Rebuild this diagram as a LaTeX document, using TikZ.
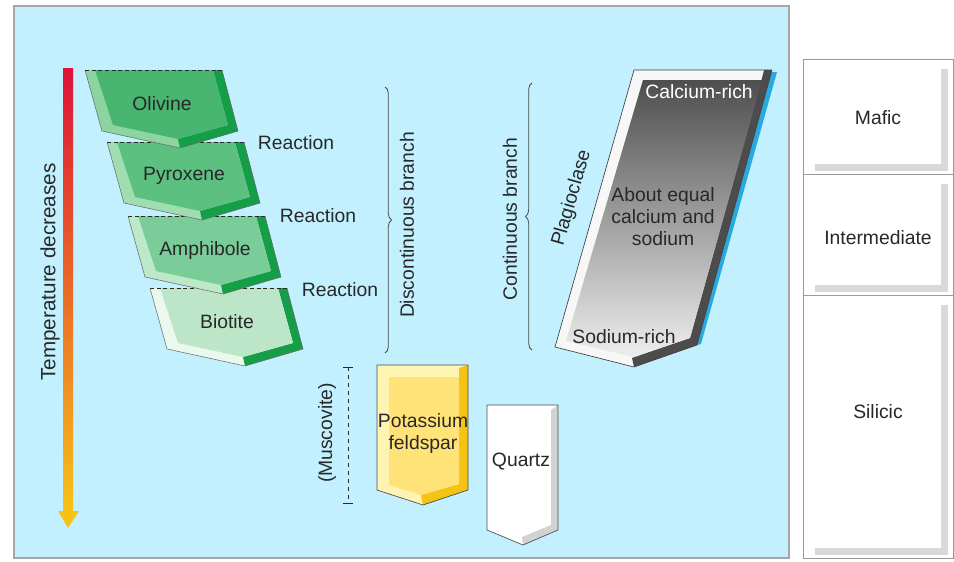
\documentclass[tikz,border=0pt]{standalone}
\usepackage{fontspec}
\setmainfont{Liberation Sans}
\usetikzlibrary{decorations.pathreplacing}
\definecolor{panel}{RGB}{194,240,255}
\definecolor{txt}{RGB}{40,40,40}
\definecolor{grdark}{RGB}{20,158,72}
\definecolor{olvface}{RGB}{72,182,112}
\definecolor{olvlight}{RGB}{140,212,160}
\definecolor{pxface}{RGB}{92,192,128}
\definecolor{pxlight}{RGB}{160,222,178}
\definecolor{amface}{RGB}{122,204,152}
\definecolor{amlight}{RGB}{188,233,200}
\definecolor{btface}{RGB}{188,230,199}
\definecolor{btlight}{RGB}{234,248,238}
\definecolor{plagtop}{RGB}{78,78,78}
\definecolor{plagbot}{RGB}{238,238,238}
\definecolor{kfsp}{RGB}{255,226,120}
\definecolor{kfspdark}{RGB}{245,195,20}
\definecolor{kfsplight}{RGB}{255,243,178}
\definecolor{shadowblue}{RGB}{40,170,225}
\definecolor{tempred}{RGB}{222,18,58}
\definecolor{temporange}{RGB}{236,104,40}
\definecolor{tempyellow}{RGB}{247,194,22}
\tikzset{lbl/.style={text=txt,font=\fontsize{14.5}{16.5}\selectfont,inner sep=0pt}}

\begin{document}
\begin{tikzpicture}[x=0.75pt,y=-0.75pt]
\useasboundingbox (0,0) rectangle (954,561);
\fill[white] (0,0) rectangle (954,561);
\fill[panel] (14,6) rectangle (789,558);
\draw[gray!70,line width=0.8pt] (14,6) rectangle (789,558);

% temperature arrow
\shade[top color=tempred,middle color=temporange,bottom color=tempyellow] (63,68) rectangle (73,512);
\fill[tempyellow] (58,511) -- (79,511) -- (68,528) -- cycle;
\node[lbl,rotate=90,font=\fontsize{15.5}{17}\selectfont] (temp) at (50,272) {Temperature decreases};

% discontinuous branch
\foreach \x/\y/\face/\edge/\nm/\lab in {150/288/btface/btlight/bt/Biotite,
  128/216/amface/amlight/am/Amphibole, 107/142/pxface/pxlight/px/Pyroxene,
  85/70/olvface/olvlight/olv/Olivine}
{
  \begin{scope}[shift={(\x,\y)}]
    \fill[\edge] (0,0) -- (137,0) -- (153,61) -- (95,78) -- (17,61) -- cycle;
    \fill[grdark] (137,0) -- (153,61) -- (95,78) -- (93,69) -- (143,55) -- (128,0) -- cycle;
    \fill[\face] (10,0) -- (128,0) -- (143,55) -- (93,69) -- (28,55) -- cycle;
    \draw[txt,densely dashed,line width=0.5pt] (0,0) -- (137,0);
    \draw[txt!70,line width=0.4pt] (137,0) -- (153,61) -- (95,78) -- (17,61) -- (0,0);
    \node[lbl] (\nm) at (77,34) {\lab};
  \end{scope}
}
\foreach \x/\y [count=\i] in {296/143,318/216,340/290}
  \node[lbl] (react\i) at (\x,\y) {Reaction};

\draw[txt!85,line width=0.6pt,decorate,decoration={brace,amplitude=5pt}] (385,87) -- (385,353);
\node[lbl,rotate=90] (disc) at (407,225) {Discontinuous branch};

% continuous branch
\draw[txt!85,line width=0.6pt,decorate,decoration={brace,amplitude=5pt}] (532,350) -- (532,83);
\node[lbl,rotate=90] (cont) at (510,219) {Continuous branch};

\fill[shadowblue] (638,72) -- (777,72) -- (701,344) -- (697,345) -- cycle;
\fill[white!94!gray] (634,70) -- (772,70) -- (697,345) -- (634,367) -- (555,347) -- cycle;
\fill[black!70] (772,70) -- (697,345) -- (634,367) -- (632,358) -- (690,338) -- (762,78) -- (764,70) -- cycle;
\shade[top color=plagtop,bottom color=plagbot] (643,80) -- (762,80) -- (690,338) -- (633,357) -- (566,341) -- cycle;
\draw[black!75,line width=0.5pt] (634,70) -- (772,70) -- (697,345) -- (634,367) -- (555,347) -- cycle;
\node[lbl,text=white] (ca) at (699,92) {Calcium-rich};
\node[lbl,align=center] (eq) at (663,217) {About equal\\calcium and\\sodium};
\node[lbl] (na) at (624,337) {Sodium-rich};
\node[lbl,rotate=74] (plag) at (572,198) {Plagioclase};

% potassium feldspar, muscovite, quartz
\fill[kfsplight] (377,365) -- (468,365) -- (468,490) -- (423,505) -- (377,490) -- cycle;
\fill[kfspdark] (468,365) -- (468,490) -- (423,505) -- (421,495) -- (459,484) -- (459,368) -- cycle;
\fill[kfsp] (389,377) -- (459,377) -- (459,484) -- (421,495) -- (389,485) -- cycle;
\draw[black!70,line width=0.5pt] (377,365) -- (468,365) -- (468,490) -- (423,505) -- (377,490) -- cycle;
\node[lbl,align=center] (kfs) at (423,433) {Potassium\\feldspar};

\draw[txt,dashed,line width=0.6pt] (348,367) -- (348,503);
\draw[txt,line width=0.6pt] (343,367) -- (353,367) (343,503) -- (353,503);
\node[lbl,rotate=90] (musc) at (327,433) {(Muscovite)};

\fill[white] (487,405) -- (558,405) -- (558,530) -- (523,545) -- (487,530) -- cycle;
\fill[gray!35] (558,405) -- (558,530) -- (523,545) -- (522,537) -- (551,525) -- (551,410) -- cycle;
\draw[black!70,line width=0.5pt] (487,405) -- (558,405) -- (558,530) -- (523,545) -- (487,530) -- cycle;
\node[lbl] (qtz) at (521,462) {Quartz};

% rock types
\foreach \t/\b/\m/\nm/\lab in {59/174/118/maf/Mafic, 174/295/238/inter/Intermediate, 295/558/412/sil/Silicic}
{
  \fill[white] (803,\t) rectangle (953,\b);
  \fill[gray!30] (941,\t+10) rectangle (948,\b-3);
  \fill[gray!30] (815,\b-10) rectangle (948,\b-3);
  \draw[gray!80,line width=0.6pt] (803,\t) rectangle (953,\b);
  \node[lbl] (\nm) at (878,\m) {\lab};
}
\end{tikzpicture}
\end{document}
